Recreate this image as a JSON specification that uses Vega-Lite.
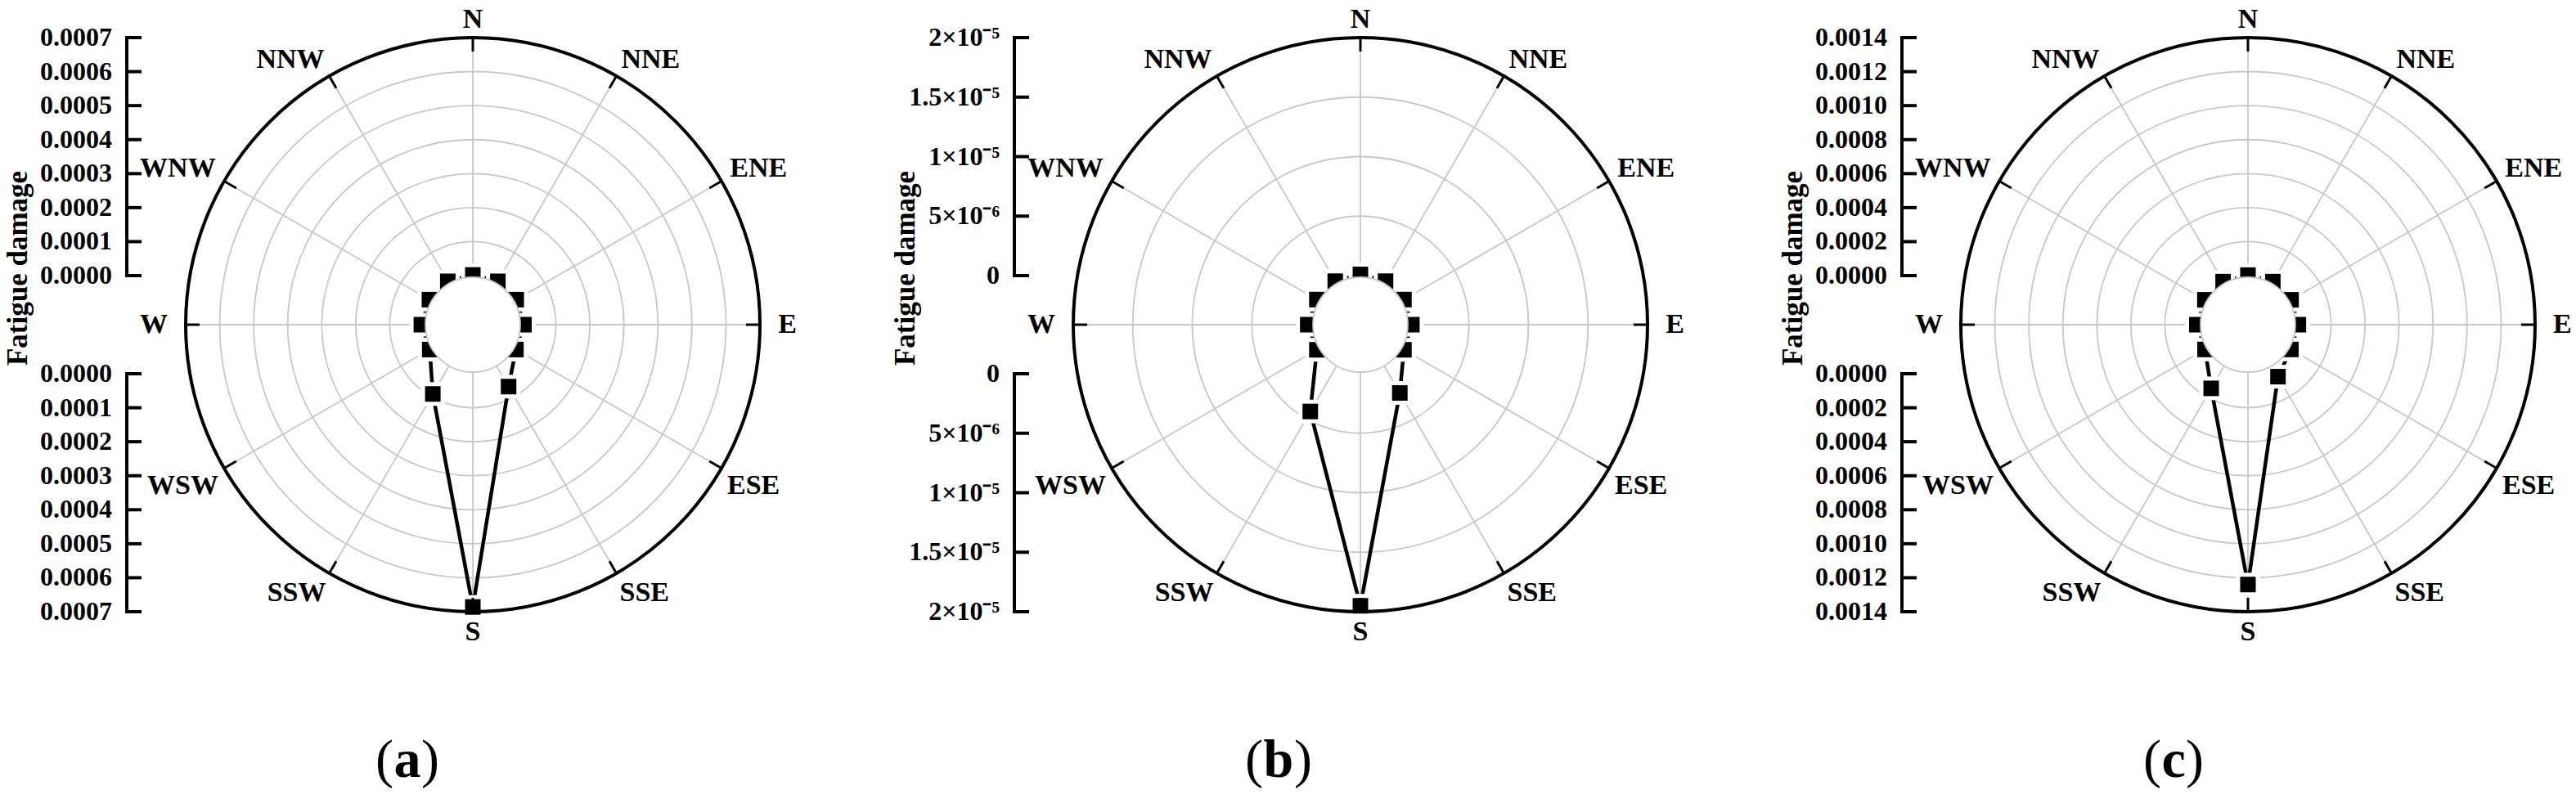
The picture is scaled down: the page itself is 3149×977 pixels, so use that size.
{
  "$schema": "https://vega.github.io/schema/vega-lite/v6.json",
  "padding": 0,
  "autosize": {"type": "pad"},
  "background": "white",
  "spacing": 0,
  "bounds": "flush",
  "config": {"view": {"stroke": null}, "legend": {"disable": true}, "text": {"font": "Liberation Serif", "color": "black"}},
  "datasets": {
    "dirs": [
      {"dir": "N", "angle": 0}, {"dir": "NNE", "angle": 30}, {"dir": "ENE", "angle": 60}, {"dir": "E", "angle": 90},
      {"dir": "ESE", "angle": 120}, {"dir": "SSE", "angle": 150}, {"dir": "S", "angle": 180}, {"dir": "SSW", "angle": 210},
      {"dir": "WSW", "angle": 240}, {"dir": "W", "angle": 270}, {"dir": "WNW", "angle": 300}, {"dir": "NNW", "angle": 330}
    ],
    "damage": [
      {"panel": "a", "dir": "N", "angle": 0, "value": 0.000002},
      {"panel": "a", "dir": "NNE", "angle": 30, "value": 0.000003},
      {"panel": "a", "dir": "ENE", "angle": 60, "value": 0.000003},
      {"panel": "a", "dir": "E", "angle": 90, "value": 0.000006},
      {"panel": "a", "dir": "ESE", "angle": 120, "value": 0.000002},
      {"panel": "a", "dir": "SSE", "angle": 150, "value": 0.000066},
      {"panel": "a", "dir": "S", "angle": 180, "value": 0.000686},
      {"panel": "a", "dir": "SSW", "angle": 210, "value": 0.000091},
      {"panel": "a", "dir": "WSW", "angle": 240, "value": 0.000002},
      {"panel": "a", "dir": "W", "angle": 270, "value": 0.000007},
      {"panel": "a", "dir": "WNW", "angle": 300, "value": 0.000003},
      {"panel": "a", "dir": "NNW", "angle": 330, "value": 0.000003},
      {"panel": "b", "dir": "N", "angle": 0, "value": 0.0000001},
      {"panel": "b", "dir": "NNE", "angle": 30, "value": 0.0000001},
      {"panel": "b", "dir": "ENE", "angle": 60, "value": 0.0000001},
      {"panel": "b", "dir": "E", "angle": 90, "value": 0.0000002},
      {"panel": "b", "dir": "ESE", "angle": 120, "value": 0.0000001},
      {"panel": "b", "dir": "SSE", "angle": 150, "value": 0.0000025},
      {"panel": "b", "dir": "S", "angle": 180, "value": 0.0000195},
      {"panel": "b", "dir": "SSW", "angle": 210, "value": 0.0000043},
      {"panel": "b", "dir": "WSW", "angle": 240, "value": 0.0000001},
      {"panel": "b", "dir": "W", "angle": 270, "value": 0.0000003},
      {"panel": "b", "dir": "WNW", "angle": 300, "value": 0.0000001},
      {"panel": "b", "dir": "NNW", "angle": 330, "value": 0.0000001},
      {"panel": "c", "dir": "N", "angle": 0, "value": 0.000003},
      {"panel": "c", "dir": "NNE", "angle": 30, "value": 0.000004},
      {"panel": "c", "dir": "ENE", "angle": 60, "value": 0.000004},
      {"panel": "c", "dir": "E", "angle": 90, "value": 0.000008},
      {"panel": "c", "dir": "ESE", "angle": 120, "value": 0.000003},
      {"panel": "c", "dir": "SSE", "angle": 150, "value": 0.0000645},
      {"panel": "c", "dir": "S", "angle": 180, "value": 0.00124},
      {"panel": "c", "dir": "SSW", "angle": 210, "value": 0.000144},
      {"panel": "c", "dir": "WSW", "angle": 240, "value": 0.000003},
      {"panel": "c", "dir": "W", "angle": 270, "value": 0.000012},
      {"panel": "c", "dir": "WNW", "angle": 300, "value": 0.000004},
      {"panel": "c", "dir": "NNW", "angle": 330, "value": 0.000004}
    ],
    "ticks": [
      {"panel": "a", "t": 0, "label": "0.0000"},
      {"panel": "a", "t": 0.0001, "label": "0.0001"},
      {"panel": "a", "t": 0.0002, "label": "0.0002"},
      {"panel": "a", "t": 0.0003, "label": "0.0003"},
      {"panel": "a", "t": 0.0004, "label": "0.0004"},
      {"panel": "a", "t": 0.0005, "label": "0.0005"},
      {"panel": "a", "t": 0.0006, "label": "0.0006"},
      {"panel": "a", "t": 0.0007, "label": "0.0007"},
      {"panel": "b", "t": 0, "label": "0"},
      {"panel": "b", "t": 0.000005, "label": "5×10⁻⁶"},
      {"panel": "b", "t": 0.00001, "label": "1×10⁻⁵"},
      {"panel": "b", "t": 0.000015, "label": "1.5×10⁻⁵"},
      {"panel": "b", "t": 0.00002, "label": "2×10⁻⁵"},
      {"panel": "c", "t": 0, "label": "0.0000"},
      {"panel": "c", "t": 0.0002, "label": "0.0002"},
      {"panel": "c", "t": 0.0004, "label": "0.0004"},
      {"panel": "c", "t": 0.0006, "label": "0.0006"},
      {"panel": "c", "t": 0.0008, "label": "0.0008"},
      {"panel": "c", "t": 0.001, "label": "0.0010"},
      {"panel": "c", "t": 0.0012, "label": "0.0012"},
      {"panel": "c", "t": 0.0014, "label": "0.0014"}
    ]
  },
  "hconcat": [
    {
      "width": 1085, "height": 977,
      "encoding": {
        "x": {"field": "x", "type": "quantitative", "scale": {"domain": [-1.6467, 1.4444], "nice": false, "zero": false}, "axis": null},
        "y": {"field": "y", "type": "quantitative", "scale": {"domain": [-1.6524, 1.1311], "nice": false, "zero": false}, "axis": null}
      },
      "layer": [
        {"data": {"name": "ticks"},
         "transform": [{"filter": "datum.panel == 'a'"}, {"calculate": "0.1709 + 0.8291 * datum.t / 0.0007", "as": "r"}, {"filter": "datum.r > 0.2 && datum.r < 0.999"}, {"calculate": "0", "as": "x"}, {"calculate": "0", "as": "y"}],
         "mark": {"type": "point", "shape": "circle", "filled": false, "stroke": "#c8c8c8", "strokeWidth": 1.8, "opacity": 1},
         "encoding": {"size": {"field": "r", "type": "quantitative", "scale": {"type": "pow", "exponent": 2, "domain": [0, 1], "range": [0, 492804]}, "legend": null}}},
        {"data": {"name": "dirs"},
         "transform": [{"calculate": "sin(datum.angle * PI / 180)", "as": "s"}, {"calculate": "cos(datum.angle * PI / 180)", "as": "c"}, {"calculate": "0.1652 * datum.s", "as": "x"}, {"calculate": "0.1652 * datum.c", "as": "y"}, {"calculate": "datum.s", "as": "x2"}, {"calculate": "datum.c", "as": "y2"}],
         "mark": {"type": "rule", "stroke": "#c8c8c8", "strokeWidth": 1.8},
         "encoding": {"x2": {"field": "x2"}, "y2": {"field": "y2"}}},
        {"data": {"name": "damage"},
         "transform": [{"filter": "datum.panel == 'a'"}, {"calculate": "0.1709 + 0.8291 * datum.value / 0.0007", "as": "r"}, {"calculate": "datum.r * sin(datum.angle * PI / 180)", "as": "x"}, {"calculate": "datum.r * cos(datum.angle * PI / 180)", "as": "y"}],
         "mark": {"type": "line", "interpolate": "linear-closed", "color": "black", "strokeWidth": 4.5},
         "encoding": {"order": {"field": "angle", "type": "quantitative"}}},
        {"data": {"name": "damage"},
         "transform": [{"filter": "datum.panel == 'a'"}, {"calculate": "0.1709 + 0.8291 * datum.value / 0.0007", "as": "r"}, {"calculate": "datum.r * sin(datum.angle * PI / 180)", "as": "x"}, {"calculate": "datum.r * cos(datum.angle * PI / 180)", "as": "y"}],
         "mark": {"type": "square", "size": 841, "color": "white", "opacity": 1}},
        {"data": {"name": "ticks"},
         "transform": [{"filter": "datum.panel == 'a'"}, {"calculate": "0.1709 + 0.8291 * datum.t / 0.0007", "as": "r"}, {"filter": "datum.r > 0.999"}, {"calculate": "0", "as": "x"}, {"calculate": "0", "as": "y"}],
         "mark": {"type": "point", "shape": "circle", "filled": false, "stroke": "black", "strokeWidth": 4, "opacity": 1},
         "encoding": {"size": {"field": "r", "type": "quantitative", "scale": {"type": "pow", "exponent": 2, "domain": [0, 1], "range": [0, 492804]}, "legend": null}}},
        {"data": {"name": "dirs"},
         "transform": [{"calculate": "sin(datum.angle * PI / 180)", "as": "s"}, {"calculate": "cos(datum.angle * PI / 180)", "as": "c"}, {"calculate": "0.9516 * datum.s", "as": "x"}, {"calculate": "0.9516 * datum.c", "as": "y"}, {"calculate": "datum.s", "as": "x2"}, {"calculate": "datum.c", "as": "y2"}],
         "mark": {"type": "rule", "stroke": "black", "strokeWidth": 3},
         "encoding": {"x2": {"field": "x2"}, "y2": {"field": "y2"}}},
        {"data": {"name": "damage"},
         "transform": [{"filter": "datum.panel == 'a'"}, {"calculate": "0.1709 + 0.8291 * datum.value / 0.0007", "as": "r"}, {"calculate": "datum.r * sin(datum.angle * PI / 180)", "as": "x"}, {"calculate": "datum.r * cos(datum.angle * PI / 180)", "as": "y"}],
         "mark": {"type": "square", "size": 361, "color": "black", "opacity": 1}},
        {"data": {"name": "ticks"},
         "transform": [{"filter": "datum.panel == 'a' && datum.t == 0"}, {"calculate": "0.1652", "as": "rh"}, {"calculate": "0", "as": "x"}, {"calculate": "0", "as": "y"}],
         "mark": {"type": "point", "shape": "circle", "filled": true, "fill": "white", "stroke": "#c8c8c8", "strokeWidth": 1.8, "opacity": 1},
         "encoding": {"size": {"field": "rh", "type": "quantitative", "scale": {"type": "pow", "exponent": 2, "domain": [0, 1], "range": [0, 492804]}, "legend": null}}},
        {"data": {"name": "ticks"},
         "transform": [{"filter": "datum.panel == 'a'"}, {"calculate": "0.1709 + 0.8291 * datum.t / 0.0007", "as": "r"}, {"calculate": "[1, -1]", "as": "sg"}, {"flatten": ["sg"]}, {"calculate": "-1.2051", "as": "x"}, {"calculate": "datum.sg * datum.r", "as": "y"}, {"calculate": "-1.1538", "as": "x2"}],
         "layer": [
           {"mark": {"type": "line", "color": "black", "strokeWidth": 4, "strokeCap": "square"}, "encoding": {"detail": {"field": "sg", "type": "nominal"}, "order": {"field": "t", "type": "quantitative"}}},
           {"mark": {"type": "rule", "color": "black", "strokeWidth": 4}, "encoding": {"x2": {"field": "x2"}}},
           {"transform": [{"calculate": "-1.2564", "as": "x"}], "mark": {"type": "text", "align": "right", "baseline": "middle", "fontSize": 32, "fontWeight": "bold"}, "encoding": {"text": {"field": "label", "type": "nominal"}}}
         ]},
        {"data": {"name": "ticks"},
         "transform": [{"filter": "datum.panel == 'a' && datum.t == 0"}, {"calculate": "-1.5527", "as": "x"}, {"calculate": "0.1966", "as": "y"}],
         "mark": {"type": "text", "angle": 270, "align": "center", "baseline": "alphabetic", "fontSize": 35, "fontWeight": "bold"},
         "encoding": {"text": {"value": "Fatigue damage"}}},
        {"data": {"name": "dirs"},
         "transform": [{"calculate": "sin(datum.angle * PI / 180)", "as": "s"}, {"calculate": "cos(datum.angle * PI / 180)", "as": "c"}, {"calculate": "datum.angle == 90 || datum.angle == 270 ? 1.063 : (datum.c < -0.01 ? 1.023 : 1.034)", "as": "rl"}, {"calculate": "datum.rl * datum.s", "as": "x"}, {"calculate": "datum.rl * datum.c", "as": "y"}],
         "encoding": {"text": {"field": "dir", "type": "nominal"}},
         "layer": [
           {"transform": [{"filter": "datum.angle == 0"}], "mark": {"type": "text", "align": "center", "baseline": "alphabetic", "fontSize": 34, "fontWeight": "bold"}},
           {"transform": [{"filter": "datum.angle == 30 || datum.angle == 60"}], "mark": {"type": "text", "align": "left", "baseline": "alphabetic", "fontSize": 34, "fontWeight": "bold"}},
           {"transform": [{"filter": "datum.angle == 90"}], "mark": {"type": "text", "align": "left", "baseline": "middle", "fontSize": 34, "fontWeight": "bold"}},
           {"transform": [{"filter": "datum.angle == 120 || datum.angle == 150"}], "mark": {"type": "text", "align": "left", "baseline": "top", "fontSize": 34, "fontWeight": "bold"}},
           {"transform": [{"filter": "datum.angle == 180"}], "mark": {"type": "text", "align": "center", "baseline": "top", "fontSize": 34, "fontWeight": "bold"}},
           {"transform": [{"filter": "datum.angle == 210 || datum.angle == 240"}], "mark": {"type": "text", "align": "right", "baseline": "top", "fontSize": 34, "fontWeight": "bold"}},
           {"transform": [{"filter": "datum.angle == 270"}], "mark": {"type": "text", "align": "right", "baseline": "middle", "fontSize": 34, "fontWeight": "bold"}},
           {"transform": [{"filter": "datum.angle == 300 || datum.angle == 330"}], "mark": {"type": "text", "align": "right", "baseline": "alphabetic", "fontSize": 34, "fontWeight": "bold"}}
         ]},
        {"data": {"name": "ticks"},
         "transform": [{"filter": "datum.panel == 'a' && datum.t == 0"}, {"calculate": "-0.228", "as": "x"}, {"calculate": "-1.5185", "as": "y"}],
         "layer": [
           {"mark": {"type": "text", "align": "right", "baseline": "middle", "fontSize": 66, "dx": -17}, "encoding": {"text": {"value": "("}}},
           {"mark": {"type": "text", "align": "center", "baseline": "middle", "fontSize": 66, "fontWeight": "bold"}, "encoding": {"text": {"value": "a"}}},
           {"mark": {"type": "text", "align": "left", "baseline": "middle", "fontSize": 66, "dx": 17}, "encoding": {"text": {"value": ")"}}}
         ]}
      ]
    },
    {
      "width": 1085, "height": 977,
      "encoding": {
        "x": {"field": "x", "type": "quantitative", "scale": {"domain": [-1.6467, 1.4444], "nice": false, "zero": false}, "axis": null},
        "y": {"field": "y", "type": "quantitative", "scale": {"domain": [-1.6524, 1.1311], "nice": false, "zero": false}, "axis": null}
      },
      "layer": [
        {"data": {"name": "ticks"},
         "transform": [{"filter": "datum.panel == 'b'"}, {"calculate": "0.1709 + 0.8291 * datum.t / 0.00002", "as": "r"}, {"filter": "datum.r > 0.2 && datum.r < 0.999"}, {"calculate": "0", "as": "x"}, {"calculate": "0", "as": "y"}],
         "mark": {"type": "point", "shape": "circle", "filled": false, "stroke": "#c8c8c8", "strokeWidth": 1.8, "opacity": 1},
         "encoding": {"size": {"field": "r", "type": "quantitative", "scale": {"type": "pow", "exponent": 2, "domain": [0, 1], "range": [0, 492804]}, "legend": null}}},
        {"data": {"name": "dirs"},
         "transform": [{"calculate": "sin(datum.angle * PI / 180)", "as": "s"}, {"calculate": "cos(datum.angle * PI / 180)", "as": "c"}, {"calculate": "0.1652 * datum.s", "as": "x"}, {"calculate": "0.1652 * datum.c", "as": "y"}, {"calculate": "datum.s", "as": "x2"}, {"calculate": "datum.c", "as": "y2"}],
         "mark": {"type": "rule", "stroke": "#c8c8c8", "strokeWidth": 1.8},
         "encoding": {"x2": {"field": "x2"}, "y2": {"field": "y2"}}},
        {"data": {"name": "damage"},
         "transform": [{"filter": "datum.panel == 'b'"}, {"calculate": "0.1709 + 0.8291 * datum.value / 0.00002", "as": "r"}, {"calculate": "datum.r * sin(datum.angle * PI / 180)", "as": "x"}, {"calculate": "datum.r * cos(datum.angle * PI / 180)", "as": "y"}],
         "mark": {"type": "line", "interpolate": "linear-closed", "color": "black", "strokeWidth": 4.5},
         "encoding": {"order": {"field": "angle", "type": "quantitative"}}},
        {"data": {"name": "damage"},
         "transform": [{"filter": "datum.panel == 'b'"}, {"calculate": "0.1709 + 0.8291 * datum.value / 0.00002", "as": "r"}, {"calculate": "datum.r * sin(datum.angle * PI / 180)", "as": "x"}, {"calculate": "datum.r * cos(datum.angle * PI / 180)", "as": "y"}],
         "mark": {"type": "square", "size": 841, "color": "white", "opacity": 1}},
        {"data": {"name": "ticks"},
         "transform": [{"filter": "datum.panel == 'b'"}, {"calculate": "0.1709 + 0.8291 * datum.t / 0.00002", "as": "r"}, {"filter": "datum.r > 0.999"}, {"calculate": "0", "as": "x"}, {"calculate": "0", "as": "y"}],
         "mark": {"type": "point", "shape": "circle", "filled": false, "stroke": "black", "strokeWidth": 4, "opacity": 1},
         "encoding": {"size": {"field": "r", "type": "quantitative", "scale": {"type": "pow", "exponent": 2, "domain": [0, 1], "range": [0, 492804]}, "legend": null}}},
        {"data": {"name": "dirs"},
         "transform": [{"calculate": "sin(datum.angle * PI / 180)", "as": "s"}, {"calculate": "cos(datum.angle * PI / 180)", "as": "c"}, {"calculate": "0.9516 * datum.s", "as": "x"}, {"calculate": "0.9516 * datum.c", "as": "y"}, {"calculate": "datum.s", "as": "x2"}, {"calculate": "datum.c", "as": "y2"}],
         "mark": {"type": "rule", "stroke": "black", "strokeWidth": 3},
         "encoding": {"x2": {"field": "x2"}, "y2": {"field": "y2"}}},
        {"data": {"name": "damage"},
         "transform": [{"filter": "datum.panel == 'b'"}, {"calculate": "0.1709 + 0.8291 * datum.value / 0.00002", "as": "r"}, {"calculate": "datum.r * sin(datum.angle * PI / 180)", "as": "x"}, {"calculate": "datum.r * cos(datum.angle * PI / 180)", "as": "y"}],
         "mark": {"type": "square", "size": 361, "color": "black", "opacity": 1}},
        {"data": {"name": "ticks"},
         "transform": [{"filter": "datum.panel == 'b' && datum.t == 0"}, {"calculate": "0.1652", "as": "rh"}, {"calculate": "0", "as": "x"}, {"calculate": "0", "as": "y"}],
         "mark": {"type": "point", "shape": "circle", "filled": true, "fill": "white", "stroke": "#c8c8c8", "strokeWidth": 1.8, "opacity": 1},
         "encoding": {"size": {"field": "rh", "type": "quantitative", "scale": {"type": "pow", "exponent": 2, "domain": [0, 1], "range": [0, 492804]}, "legend": null}}},
        {"data": {"name": "ticks"},
         "transform": [{"filter": "datum.panel == 'b'"}, {"calculate": "0.1709 + 0.8291 * datum.t / 0.00002", "as": "r"}, {"calculate": "[1, -1]", "as": "sg"}, {"flatten": ["sg"]}, {"calculate": "-1.2051", "as": "x"}, {"calculate": "datum.sg * datum.r", "as": "y"}, {"calculate": "-1.1538", "as": "x2"}],
         "layer": [
           {"mark": {"type": "line", "color": "black", "strokeWidth": 4, "strokeCap": "square"}, "encoding": {"detail": {"field": "sg", "type": "nominal"}, "order": {"field": "t", "type": "quantitative"}}},
           {"mark": {"type": "rule", "color": "black", "strokeWidth": 4}, "encoding": {"x2": {"field": "x2"}}},
           {"transform": [{"calculate": "-1.2564", "as": "x"}], "mark": {"type": "text", "align": "right", "baseline": "middle", "fontSize": 32, "fontWeight": "bold"}, "encoding": {"text": {"field": "label", "type": "nominal"}}}
         ]},
        {"data": {"name": "ticks"},
         "transform": [{"filter": "datum.panel == 'b' && datum.t == 0"}, {"calculate": "-1.5527", "as": "x"}, {"calculate": "0.1966", "as": "y"}],
         "mark": {"type": "text", "angle": 270, "align": "center", "baseline": "alphabetic", "fontSize": 35, "fontWeight": "bold"},
         "encoding": {"text": {"value": "Fatigue damage"}}},
        {"data": {"name": "dirs"},
         "transform": [{"calculate": "sin(datum.angle * PI / 180)", "as": "s"}, {"calculate": "cos(datum.angle * PI / 180)", "as": "c"}, {"calculate": "datum.angle == 90 || datum.angle == 270 ? 1.063 : (datum.c < -0.01 ? 1.023 : 1.034)", "as": "rl"}, {"calculate": "datum.rl * datum.s", "as": "x"}, {"calculate": "datum.rl * datum.c", "as": "y"}],
         "encoding": {"text": {"field": "dir", "type": "nominal"}},
         "layer": [
           {"transform": [{"filter": "datum.angle == 0"}], "mark": {"type": "text", "align": "center", "baseline": "alphabetic", "fontSize": 34, "fontWeight": "bold"}},
           {"transform": [{"filter": "datum.angle == 30 || datum.angle == 60"}], "mark": {"type": "text", "align": "left", "baseline": "alphabetic", "fontSize": 34, "fontWeight": "bold"}},
           {"transform": [{"filter": "datum.angle == 90"}], "mark": {"type": "text", "align": "left", "baseline": "middle", "fontSize": 34, "fontWeight": "bold"}},
           {"transform": [{"filter": "datum.angle == 120 || datum.angle == 150"}], "mark": {"type": "text", "align": "left", "baseline": "top", "fontSize": 34, "fontWeight": "bold"}},
           {"transform": [{"filter": "datum.angle == 180"}], "mark": {"type": "text", "align": "center", "baseline": "top", "fontSize": 34, "fontWeight": "bold"}},
           {"transform": [{"filter": "datum.angle == 210 || datum.angle == 240"}], "mark": {"type": "text", "align": "right", "baseline": "top", "fontSize": 34, "fontWeight": "bold"}},
           {"transform": [{"filter": "datum.angle == 270"}], "mark": {"type": "text", "align": "right", "baseline": "middle", "fontSize": 34, "fontWeight": "bold"}},
           {"transform": [{"filter": "datum.angle == 300 || datum.angle == 330"}], "mark": {"type": "text", "align": "right", "baseline": "alphabetic", "fontSize": 34, "fontWeight": "bold"}}
         ]},
        {"data": {"name": "ticks"},
         "transform": [{"filter": "datum.panel == 'b' && datum.t == 0"}, {"calculate": "-0.285", "as": "x"}, {"calculate": "-1.5185", "as": "y"}],
         "layer": [
           {"mark": {"type": "text", "align": "right", "baseline": "middle", "fontSize": 66, "dx": -19}, "encoding": {"text": {"value": "("}}},
           {"mark": {"type": "text", "align": "center", "baseline": "middle", "fontSize": 66, "fontWeight": "bold"}, "encoding": {"text": {"value": "b"}}},
           {"mark": {"type": "text", "align": "left", "baseline": "middle", "fontSize": 66, "dx": 19}, "encoding": {"text": {"value": ")"}}}
         ]}
      ]
    },
    {
      "width": 979, "height": 977,
      "encoding": {
        "x": {"field": "x", "type": "quantitative", "scale": {"domain": [-1.6467, 1.1425], "nice": false, "zero": false}, "axis": null},
        "y": {"field": "y", "type": "quantitative", "scale": {"domain": [-1.6524, 1.1311], "nice": false, "zero": false}, "axis": null}
      },
      "layer": [
        {"data": {"name": "ticks"},
         "transform": [{"filter": "datum.panel == 'c'"}, {"calculate": "0.1709 + 0.8291 * datum.t / 0.0014", "as": "r"}, {"filter": "datum.r > 0.2 && datum.r < 0.999"}, {"calculate": "0", "as": "x"}, {"calculate": "0", "as": "y"}],
         "mark": {"type": "point", "shape": "circle", "filled": false, "stroke": "#c8c8c8", "strokeWidth": 1.8, "opacity": 1},
         "encoding": {"size": {"field": "r", "type": "quantitative", "scale": {"type": "pow", "exponent": 2, "domain": [0, 1], "range": [0, 492804]}, "legend": null}}},
        {"data": {"name": "dirs"},
         "transform": [{"calculate": "sin(datum.angle * PI / 180)", "as": "s"}, {"calculate": "cos(datum.angle * PI / 180)", "as": "c"}, {"calculate": "0.1652 * datum.s", "as": "x"}, {"calculate": "0.1652 * datum.c", "as": "y"}, {"calculate": "datum.s", "as": "x2"}, {"calculate": "datum.c", "as": "y2"}],
         "mark": {"type": "rule", "stroke": "#c8c8c8", "strokeWidth": 1.8},
         "encoding": {"x2": {"field": "x2"}, "y2": {"field": "y2"}}},
        {"data": {"name": "damage"},
         "transform": [{"filter": "datum.panel == 'c'"}, {"calculate": "0.1709 + 0.8291 * datum.value / 0.0014", "as": "r"}, {"calculate": "datum.r * sin(datum.angle * PI / 180)", "as": "x"}, {"calculate": "datum.r * cos(datum.angle * PI / 180)", "as": "y"}],
         "mark": {"type": "line", "interpolate": "linear-closed", "color": "black", "strokeWidth": 4.5},
         "encoding": {"order": {"field": "angle", "type": "quantitative"}}},
        {"data": {"name": "damage"},
         "transform": [{"filter": "datum.panel == 'c'"}, {"calculate": "0.1709 + 0.8291 * datum.value / 0.0014", "as": "r"}, {"calculate": "datum.r * sin(datum.angle * PI / 180)", "as": "x"}, {"calculate": "datum.r * cos(datum.angle * PI / 180)", "as": "y"}],
         "mark": {"type": "square", "size": 841, "color": "white", "opacity": 1}},
        {"data": {"name": "ticks"},
         "transform": [{"filter": "datum.panel == 'c'"}, {"calculate": "0.1709 + 0.8291 * datum.t / 0.0014", "as": "r"}, {"filter": "datum.r > 0.999"}, {"calculate": "0", "as": "x"}, {"calculate": "0", "as": "y"}],
         "mark": {"type": "point", "shape": "circle", "filled": false, "stroke": "black", "strokeWidth": 4, "opacity": 1},
         "encoding": {"size": {"field": "r", "type": "quantitative", "scale": {"type": "pow", "exponent": 2, "domain": [0, 1], "range": [0, 492804]}, "legend": null}}},
        {"data": {"name": "dirs"},
         "transform": [{"calculate": "sin(datum.angle * PI / 180)", "as": "s"}, {"calculate": "cos(datum.angle * PI / 180)", "as": "c"}, {"calculate": "0.9516 * datum.s", "as": "x"}, {"calculate": "0.9516 * datum.c", "as": "y"}, {"calculate": "datum.s", "as": "x2"}, {"calculate": "datum.c", "as": "y2"}],
         "mark": {"type": "rule", "stroke": "black", "strokeWidth": 3},
         "encoding": {"x2": {"field": "x2"}, "y2": {"field": "y2"}}},
        {"data": {"name": "damage"},
         "transform": [{"filter": "datum.panel == 'c'"}, {"calculate": "0.1709 + 0.8291 * datum.value / 0.0014", "as": "r"}, {"calculate": "datum.r * sin(datum.angle * PI / 180)", "as": "x"}, {"calculate": "datum.r * cos(datum.angle * PI / 180)", "as": "y"}],
         "mark": {"type": "square", "size": 361, "color": "black", "opacity": 1}},
        {"data": {"name": "ticks"},
         "transform": [{"filter": "datum.panel == 'c' && datum.t == 0"}, {"calculate": "0.1652", "as": "rh"}, {"calculate": "0", "as": "x"}, {"calculate": "0", "as": "y"}],
         "mark": {"type": "point", "shape": "circle", "filled": true, "fill": "white", "stroke": "#c8c8c8", "strokeWidth": 1.8, "opacity": 1},
         "encoding": {"size": {"field": "rh", "type": "quantitative", "scale": {"type": "pow", "exponent": 2, "domain": [0, 1], "range": [0, 492804]}, "legend": null}}},
        {"data": {"name": "ticks"},
         "transform": [{"filter": "datum.panel == 'c'"}, {"calculate": "0.1709 + 0.8291 * datum.t / 0.0014", "as": "r"}, {"calculate": "[1, -1]", "as": "sg"}, {"flatten": ["sg"]}, {"calculate": "-1.2051", "as": "x"}, {"calculate": "datum.sg * datum.r", "as": "y"}, {"calculate": "-1.1538", "as": "x2"}],
         "layer": [
           {"mark": {"type": "line", "color": "black", "strokeWidth": 4, "strokeCap": "square"}, "encoding": {"detail": {"field": "sg", "type": "nominal"}, "order": {"field": "t", "type": "quantitative"}}},
           {"mark": {"type": "rule", "color": "black", "strokeWidth": 4}, "encoding": {"x2": {"field": "x2"}}},
           {"transform": [{"calculate": "-1.2564", "as": "x"}], "mark": {"type": "text", "align": "right", "baseline": "middle", "fontSize": 32, "fontWeight": "bold"}, "encoding": {"text": {"field": "label", "type": "nominal"}}}
         ]},
        {"data": {"name": "ticks"},
         "transform": [{"filter": "datum.panel == 'c' && datum.t == 0"}, {"calculate": "-1.5527", "as": "x"}, {"calculate": "0.1966", "as": "y"}],
         "mark": {"type": "text", "angle": 270, "align": "center", "baseline": "alphabetic", "fontSize": 35, "fontWeight": "bold"},
         "encoding": {"text": {"value": "Fatigue damage"}}},
        {"data": {"name": "dirs"},
         "transform": [{"calculate": "sin(datum.angle * PI / 180)", "as": "s"}, {"calculate": "cos(datum.angle * PI / 180)", "as": "c"}, {"calculate": "datum.angle == 90 || datum.angle == 270 ? 1.063 : (datum.c < -0.01 ? 1.023 : 1.034)", "as": "rl"}, {"calculate": "datum.rl * datum.s", "as": "x"}, {"calculate": "datum.rl * datum.c", "as": "y"}],
         "encoding": {"text": {"field": "dir", "type": "nominal"}},
         "layer": [
           {"transform": [{"filter": "datum.angle == 0"}], "mark": {"type": "text", "align": "center", "baseline": "alphabetic", "fontSize": 34, "fontWeight": "bold"}},
           {"transform": [{"filter": "datum.angle == 30 || datum.angle == 60"}], "mark": {"type": "text", "align": "left", "baseline": "alphabetic", "fontSize": 34, "fontWeight": "bold"}},
           {"transform": [{"filter": "datum.angle == 90"}], "mark": {"type": "text", "align": "left", "baseline": "middle", "fontSize": 34, "fontWeight": "bold"}},
           {"transform": [{"filter": "datum.angle == 120 || datum.angle == 150"}], "mark": {"type": "text", "align": "left", "baseline": "top", "fontSize": 34, "fontWeight": "bold"}},
           {"transform": [{"filter": "datum.angle == 180"}], "mark": {"type": "text", "align": "center", "baseline": "top", "fontSize": 34, "fontWeight": "bold"}},
           {"transform": [{"filter": "datum.angle == 210 || datum.angle == 240"}], "mark": {"type": "text", "align": "right", "baseline": "top", "fontSize": 34, "fontWeight": "bold"}},
           {"transform": [{"filter": "datum.angle == 270"}], "mark": {"type": "text", "align": "right", "baseline": "middle", "fontSize": 34, "fontWeight": "bold"}},
           {"transform": [{"filter": "datum.angle == 300 || datum.angle == 330"}], "mark": {"type": "text", "align": "right", "baseline": "alphabetic", "fontSize": 34, "fontWeight": "bold"}}
         ]},
        {"data": {"name": "ticks"},
         "transform": [{"filter": "datum.panel == 'c' && datum.t == 0"}, {"calculate": "-0.259", "as": "x"}, {"calculate": "-1.5185", "as": "y"}],
         "layer": [
           {"mark": {"type": "text", "align": "right", "baseline": "middle", "fontSize": 66, "dx": -15}, "encoding": {"text": {"value": "("}}},
           {"mark": {"type": "text", "align": "center", "baseline": "middle", "fontSize": 66, "fontWeight": "bold"}, "encoding": {"text": {"value": "c"}}},
           {"mark": {"type": "text", "align": "left", "baseline": "middle", "fontSize": 66, "dx": 15}, "encoding": {"text": {"value": ")"}}}
         ]}
      ]
    }
  ]
}
